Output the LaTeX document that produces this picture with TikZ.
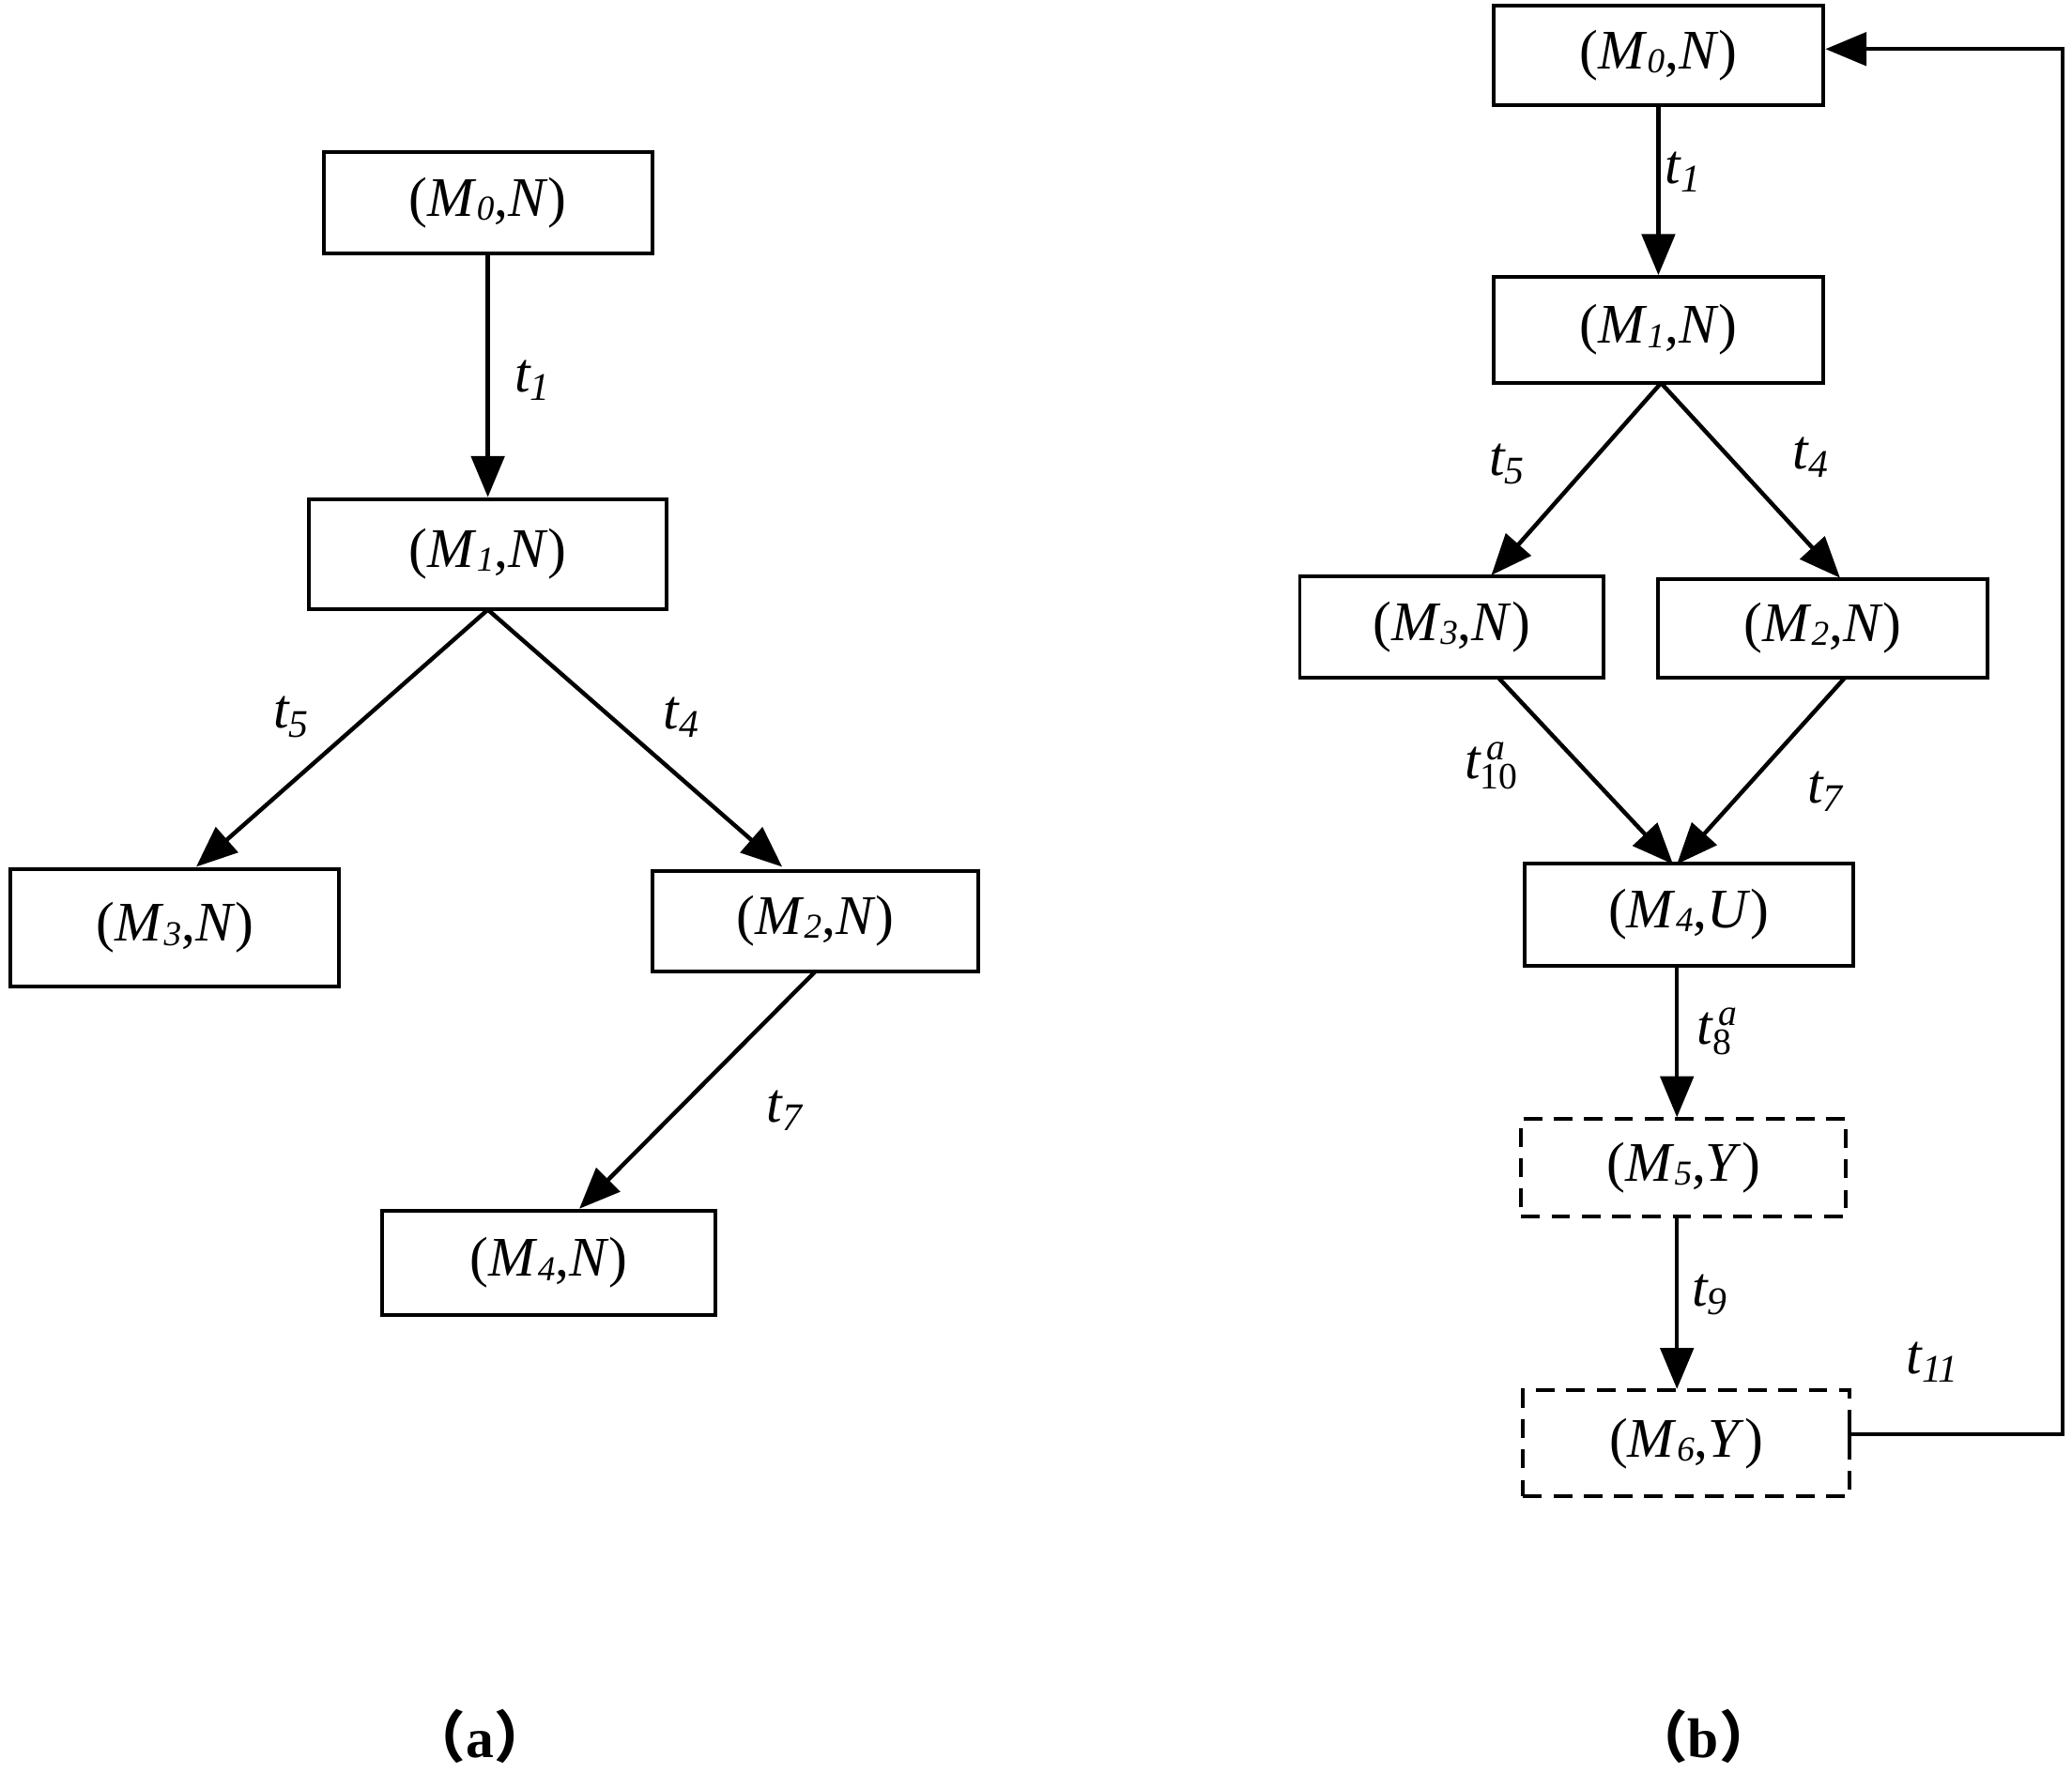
\documentclass[tikz,border=0pt]{standalone}
\usepackage{fontspec}
\setmainfont{Liberation Serif}
\newfontfamily\cjk{Noto Sans CJK SC}
\usetikzlibrary{arrows.meta}
\begin{document}
\begin{tikzpicture}[x=0.02cm,y=-0.02cm,
  box/.style={draw,line width=1.6pt,rectangle,inner sep=0pt,font=\fontsize{24}{28}\selectfont},
  dbox/.style={box,dashed,dash pattern=on 8pt off 5pt},
  arr/.style={line width=1.8pt,-{Triangle[length=0.62cm,width=0.5cm]}},
  lab/.style={font=\fontsize{24}{28}\selectfont\itshape}]
\path[use as bounding box,fill=white] (0,0) rectangle (1563,1338);
\newcommand{\st}[2]{(\textit{M}{\fontsize{15}{15}\selectfont\raisebox{-0.25ex}{\textit{#1}}},\textit{#2})}
\newcommand{\supsub}[2]{t{\fontsize{16}{16}\selectfont\rlap{\raisebox{1.1ex}{\,#1}}\raisebox{-0.6ex}{\upshape #2}}}
% (a)
\node[box,minimum width=248*0.02cm,minimum height=77*0.02cm] (a0) at (368,153) {\st{0}{N}};
\node[box,minimum width=270*0.02cm,minimum height=83*0.02cm] (a1) at (368,418) {\st{1}{N}};
\node[box,minimum width=248*0.02cm,minimum height=88*0.02cm] (a3) at (132,700) {\st{3}{N}};
\node[box,minimum width=246*0.02cm,minimum height=76*0.02cm] (a2) at (615,695) {\st{2}{N}};
\node[box,minimum width=251*0.02cm,minimum height=79*0.02cm] (a4) at (414,953) {\st{4}{N}};
\coordinate (a1b) at (368,460);
\draw[arr] (a0) -- (a1);
\draw[arr] (a1b) -- (148,654);
\draw[arr] (a1b) -- (590,654);
\draw[arr] (615,733) -- (437,912);
\node[lab] at (402,287) {t\textsubscript{1}};
\node[lab] at (220,541) {t\textsubscript{5}};
\node[lab] at (514,541) {t\textsubscript{4}};
\node[lab] at (592,838) {t\textsubscript{7}};
\node[font=\fontsize{24}{28}\selectfont\bfseries] at (362,1310) {{\cjk （}a{\cjk ）}};
% (b)
\node[box,minimum width=249*0.02cm,minimum height=75*0.02cm] (b0) at (1251,42) {\st{0}{N}};
\node[box,minimum width=249*0.02cm,minimum height=80*0.02cm] (b1) at (1251,249) {\st{1}{N}};
\node[box,minimum width=229*0.02cm,minimum height=76*0.02cm] (b3) at (1095,473) {\st{3}{N}};
\node[box,minimum width=249*0.02cm,minimum height=74*0.02cm] (b2) at (1375,474) {\st{2}{N}};
\node[box,minimum width=248*0.02cm,minimum height=77*0.02cm] (b4) at (1274,690) {\st{4}{U}};
\node[dbox,minimum width=245*0.02cm,minimum height=74*0.02cm] (b5) at (1270,881) {\st{5}{Y}};
\node[dbox,minimum width=246*0.02cm,minimum height=80*0.02cm] (b6) at (1272,1089) {\st{6}{Y}};
\draw[arr] (b0) -- (b1);
\draw[arr] (1253,289) -- (1125,434);
\draw[arr] (1253,289) -- (1388,436);
\draw[arr] (1130,511) -- (1262,652);
\draw[arr] (1392,511) -- (1265,652);
\draw[arr] (1265,728) -- (1265,843);
\draw[arr] (1265,918) -- (1265,1048);
\coordinate (c1) at (1556,1082);
\coordinate (c2) at (1556,37);
\draw[line width=1.6pt] (1395,1070) -- (1395,1094);
\draw[arr] (1395,1082) -- (c1) -- (c2) -- (1377,37);
\node[lab] at (1270,130) {t\textsubscript{1}};
\node[lab] at (1137,350) {t\textsubscript{5}};
\node[lab] at (1366,345) {t\textsubscript{4}};
\node[lab] at (1125,578) {\supsub{a}{10}};
\node[lab] at (1377,597) {t\textsubscript{7}};
\node[lab] at (1293,778) {\supsub{a}{8}};
\node[lab] at (1290,977) {t\textsubscript{9}};
\node[lab] at (1458,1028) {t\textsubscript{11}};
\node[font=\fontsize{24}{28}\selectfont\bfseries] at (1285,1310) {{\cjk （}b{\cjk ）}};
\end{tikzpicture}
\end{document}
